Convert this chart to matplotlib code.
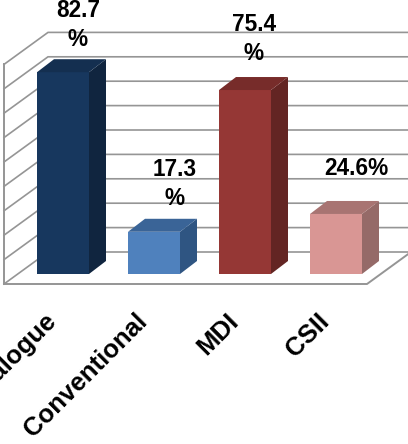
import matplotlib.pyplot as plt
from matplotlib.patches import Polygon

plt.rcParams['font.family'] = ['Liberation Sans', 'DejaVu Sans']

categories = ['Analogue', 'Conventional', 'MDI', 'CSII']
values = [82.7, 17.3, 75.4, 24.6]
value_labels = ['82.7\n%', '17.3\n%', '75.4\n%', '24.6%']
gridline_values = [0, 10, 20, 30, 40, 50, 60, 70, 80, 90]

front_colors = ['#17375e', '#4f81bd', '#953735', '#d99694']
side_colors = ['#10253f', '#2f5582', '#632523', '#956a68']
top_colors = ['#142f50', '#3a6497', '#772c2a', '#a87472']

# pixels per data unit
XS = 91.0
YS = 2.44
W, H = 408, 444

fig = plt.figure(figsize=(W / 100, H / 100), dpi=100)
ax = fig.add_axes([0, 0, 1, 1])
ax.set_xlim(-63 / XS, (W - 63) / XS)
ax.set_ylim(-(H - 274) / YS, 274 / YS)
ax.axis('off')

# walls: back corner sits up and right of the floor's front corner
bar_w = 52 / XS
bar_dx, bar_dy = 17 / XS, 13 / YS
left = -59 / XS
floor_right = 304 / XS
front_y = -10 / YS
wall_dx, wall_dy = 44 / XS, 32 / YS
x_end = (W - 63) / XS

grid_c = '#959595'
for v in gridline_values:
    y = front_y + v
    ax.plot([left, left + wall_dx, x_end], [y, y + wall_dy, y + wall_dy],
            color=grid_c, lw=1.2, solid_joinstyle='miter', zorder=1)

ax.plot([left, left], [front_y, front_y + gridline_values[-1]], color=grid_c, lw=1.4, zorder=1)
ax.plot([left, floor_right, floor_right + wall_dx],
        [front_y, front_y, front_y + wall_dy], color=grid_c, lw=1.4, zorder=1)

# bars with their top and side faces
for i, v in enumerate(values):
    x0 = i - bar_w / 2
    x1 = i + bar_w / 2
    ax.add_patch(Polygon([(x0, 0), (x1, 0), (x1, v), (x0, v)],
                         fc=front_colors[i], ec='none', zorder=3))
    ax.add_patch(Polygon([(x1, 0), (x1 + bar_dx, bar_dy), (x1 + bar_dx, v + bar_dy), (x1, v)],
                         fc=side_colors[i], ec='none', zorder=3))
    ax.add_patch(Polygon([(x0, v), (x1, v), (x1 + bar_dx, v + bar_dy), (x0 + bar_dx, v + bar_dy)],
                         fc=top_colors[i], ec='none', zorder=3))

# value labels, offsets in pixels from the bar's top
label_dx = [15, 21, 9, 20]
label_dy = [13, 14, 17, 26]
for i, v in enumerate(values):
    ax.annotate(value_labels[i], (i, v + bar_dy), xytext=(label_dx[i], label_dy[i]),
                textcoords='offset pixels', ha='center', va='baseline',
                fontsize=16.3, fontweight='bold', color='black',
                linespacing=1.33, annotation_clip=False, zorder=5)

# category labels
for i, name in enumerate(categories):
    ax.annotate(name, (i, 0), xytext=(-19, -35), textcoords='offset pixels',
                ha='right', va='top', rotation=45, rotation_mode='anchor',
                fontsize=18.5, fontweight='bold', color='black', zorder=5)

fig.savefig('out.png', dpi=100)
